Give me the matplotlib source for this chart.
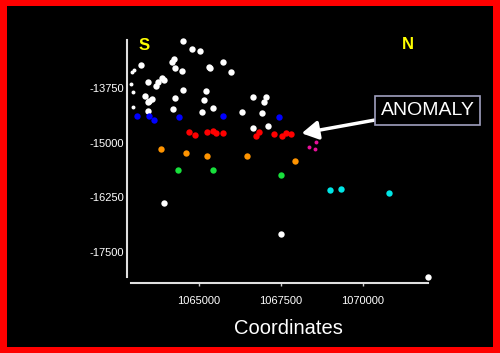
import matplotlib
matplotlib.use("Agg")
import matplotlib.pyplot as plt
from matplotlib.patches import Rectangle

plt.rcParams['font.family'] = ['Liberation Sans', 'DejaVu Sans']

# well positions (easting, northing) grouped by colour
white_x = [1064521, 1064777, 1065030, 1064186, 1064247, 1064268, 1064473, 1063232,
           1065296, 1065335, 1065741, 1065976, 1063454, 1063680, 1063759, 1063863,
           1063942, 1064521, 1065204, 1063354, 1063485, 1063576, 1063454, 1064268,
           1065152, 1064207, 1063445, 1065082, 1065436, 1066311, 1066656, 1067034,
           1066973, 1066921, 1066656, 1067113, 1063933, 1067491, 1071991]
white_y = [-12668, -12858, -12911, -13155, -13094, -13293, -13354, -13217,
           -13263, -13286, -13149, -13377, -13606, -13704, -13606, -13528,
           -13567, -13796, -13825, -13926, -14040, -13995, -14077, -13972,
           -14024, -14230, -14283, -14292, -14214, -14292, -13963, -13956,
           -14077, -14329, -14658, -14619, -16380, -17089, -18079]
small_white_x = [1062948, 1063018, 1062918, 1062997, 1062979]
small_white_y = [-13377, -13338, -13665, -13848, -14191]
blue_x = [1063119, 1063485, 1063628, 1064390, 1065723, 1067448]
blue_y = [-14390, -14397, -14489, -14420, -14383, -14413]
red_x = [1064704, 1064869, 1065253, 1065436, 1065527, 1065723,
         1066729, 1066820, 1067278, 1067540, 1067643, 1067796]
red_y = [-14756, -14825, -14749, -14740, -14786, -14786,
         -14848, -14763, -14795, -14841, -14786, -14809]
magenta_x = [1068354, 1068558, 1068537]
magenta_y = [-15106, -14992, -15138]
orange_x = [1063851, 1064594, 1065235, 1066454, 1067936]
orange_y = [-15145, -15243, -15312, -15305, -15420]
green_x = [1064351, 1065418, 1067509]
green_y = [-15618, -15625, -15733]
cyan_x = [1068994, 1069320, 1070793]
cyan_y = [-16083, -16053, -16144]

xticks = [1065000, 1067500, 1070000]
yticks = [-13750, -15000, -16250, -17500]

fig = plt.figure(figsize=(5, 3.53), dpi=100)
fig.patch.set_facecolor('red')
fig.add_artist(Rectangle((7/500, 6.3/353), 486/500, 340.7/353, facecolor='black',
                         edgecolor='none', transform=fig.transFigure, zorder=0))

ax = fig.add_axes([127/500, 70/353, 303/500, 243/353])
ax.set_facecolor('none')

big = 21
ax.scatter(white_x, white_y, s=big, color='white', linewidths=0, clip_on=False)
ax.scatter(small_white_x, small_white_y, s=8, color='white', linewidths=0)
ax.scatter(blue_x, blue_y, s=big, color='#0000ff', linewidths=0)
ax.scatter(red_x, red_y, s=big, color='#ff0000', linewidths=0)
ax.scatter(magenta_x, magenta_y, s=8, color='#e8109a', linewidths=0)
ax.scatter(orange_x, orange_y, s=big, color='#ff9400', linewidths=0)
ax.scatter(green_x, green_y, s=big, color='#18e03c', linewidths=0)
ax.scatter(cyan_x, cyan_y, s=big, color='#00e6e6', linewidths=0)

ax.set_xlim(1062805, 1072043)
ax.set_ylim(-18210, -12652)
ax.set_xticks(xticks)
ax.set_xticklabels([str(v) for v in xticks])
ax.set_yticks(yticks)
ax.set_yticklabels([str(v) for v in yticks])
ax.tick_params(axis='x', colors='#cccccc', length=2.5, width=1, pad=7,
               labelsize=8, labelcolor='white')
ax.tick_params(axis='y', length=0, pad=2, labelsize=8, labelcolor='white')

for side in ['top', 'right']:
    ax.spines[side].set_visible(False)
ax.spines['left'].set_color('#e0e0e0')
ax.spines['left'].set_linewidth(1.5)
ax.spines['left'].set_bounds(-18072, -12652)
ax.spines['bottom'].set_color('#e0e0e0')
ax.spines['bottom'].set_linewidth(1.5)
ax.spines['bottom'].set_bounds(1062927, 1071982)

fig.text(288/500, 1 - 328/353, 'Coordinates', color='white', fontsize=14.5,
         ha='center', va='center')
fig.text(144/500, 1 - 45/353, 'S', color='#ffff00', fontsize=12, fontweight='bold',
         ha='center', va='center')
fig.text(408/500, 1 - 44.5/353, 'N', color='#ffff00', fontsize=12, fontweight='bold',
         ha='center', va='center')

ax.annotate('ANOMALY', xy=(1068131, -14786), xycoords='data',
            xytext=(427.5/500, 1 - 110.5/353), textcoords='figure fraction',
            color='white', fontsize=14, ha='center', va='center',
            bbox=dict(boxstyle='square,pad=0.3', facecolor='black',
                      edgecolor='#a0a0c0', linewidth=1.2),
            arrowprops=dict(arrowstyle='-|>,head_length=0.7,head_width=0.4',
                            color='white', lw=2.5, shrinkA=0, shrinkB=0),
            annotation_clip=False)

fig.savefig('out.png', dpi=100, facecolor=fig.get_facecolor())
